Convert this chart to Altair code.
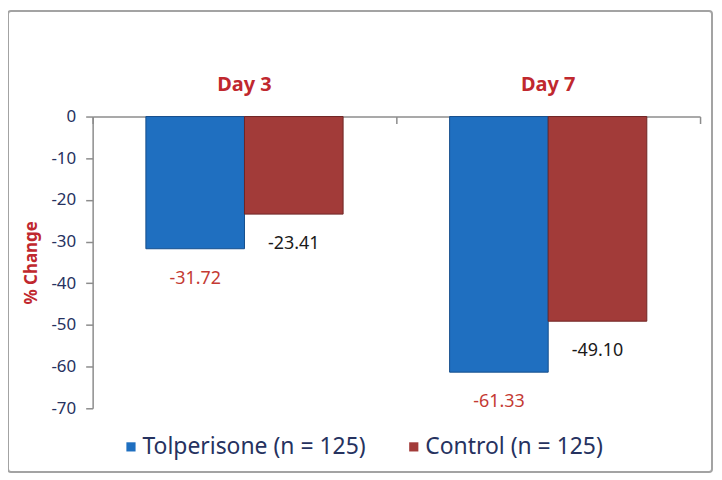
import altair as alt
import pandas as pd

days = ["Day 3", "Day 7"]
groups = ["Tolperisone (n = 125)", "Control (n = 125)"]
tolperisone = [-31.72, -61.33]
control = [-23.41, -49.10]

rows = []
for i, d in enumerate(days):
    rows.append({"day": d, "group": groups[0], "value": tolperisone[i]})
    rows.append({"day": d, "group": groups[1], "value": control[i]})
df = pd.DataFrame(rows)

FONT = "Noto Sans"
NAVY = "#26325f"
DARKRED = "#c0282e"

y_axis = alt.Axis(
    values=[0, -10, -20, -30, -40, -50, -60, -70],
    labelExpr="toString(datum.value)",
    grid=False,
    domainColor="#8c8c8c",
    domainWidth=1.5,
    tickColor="#8c8c8c",
    tickWidth=1.5,
    tickSize=7,
    labelPadding=10,
    labelFont=FONT,
    labelFontSize=17,
    labelColor=NAVY,
    title="% Change",
    titleFont=FONT,
    titleFontSize=17,
    titleFontWeight="bold",
    titleColor=DARKRED,
    titlePadding=10,
)
y_enc = alt.Y("value:Q", scale=alt.Scale(domain=[-70, 0], nice=False), axis=y_axis)
x_scale = alt.Scale(domain=days, paddingInner=0, paddingOuter=0)
xo_enc = alt.XOffset("group:N", sort=groups,
                     scale=alt.Scale(domain=groups, paddingOuter=0.54, paddingInner=0))

base = alt.Chart(df)

bars = base.mark_bar(strokeWidth=1).encode(
    x=alt.X("day:N", scale=x_scale, axis=alt.Axis(
        orient="top", ticks=False, domain=False, labelAngle=0,
        labelFont=FONT, labelFontSize=20, labelFontWeight="bold",
        labelColor=DARKRED, labelPadding=22, title=None)),
    xOffset=xo_enc,
    y=y_enc,
    color=alt.Color("group:N", sort=groups,
                    scale=alt.Scale(domain=groups, range=["#1f6fc0", "#a23b39"]),
                    legend=alt.Legend(
                        orient="none", legendX=27, legendY=320, direction="horizontal",
                        title=None, symbolType="square", symbolSize=85,
                        symbolStrokeWidth=0, labelFont=FONT, labelFontSize=23,
                        labelColor=NAVY, labelOffset=0, columnPadding=36,
                        labelLimit=0)),
    stroke=alt.Stroke("group:N", sort=groups,
                      scale=alt.Scale(domain=groups, range=["#164f8c", "#6f2524"]),
                      legend=None),
)

labels = base.transform_calculate(
    lab="replace(format(datum.value, '.2f'), '\u2212', '-')"
).mark_text(fontSize=18, font=FONT, baseline="middle", dy=30).encode(
    x=alt.X("day:N", scale=x_scale, axis=alt.Axis(
        orient="bottom", offset=-293, labels=False, title=None,
        domainColor="#8c8c8c", domainWidth=1.5, tickColor="#8c8c8c",
        tickWidth=1.5, tickSize=7, tickBand="extent")),
    xOffset=xo_enc,
    y=y_enc,
    text=alt.Text("lab:N"),
    color=alt.condition(alt.datum.group == groups[0],
                        alt.value("#c43a33"), alt.value("#1a1a1a")),
)

frame = alt.Chart(pd.DataFrame({"f": [0]})).mark_rect(
    fill=None, stroke="#a3a3a3", strokeWidth=2, cornerRadius=3
).encode(
    x=alt.value(-85), x2=alt.value(622), y=alt.value(-106), y2=alt.value(357)
)

chart = alt.layer(frame, bars, labels).resolve_axis(x="independent").resolve_scale(
    color="independent"
).properties(
    width=610, height=293,
    autosize=alt.AutoSizeParams(type="none"),
    padding={"left": 85, "top": 108, "right": 14, "bottom": 70},
    background="white",
).configure_view(stroke=None)

chart.save("out.html", embed_options={"renderer": "svg", "actions": False})
